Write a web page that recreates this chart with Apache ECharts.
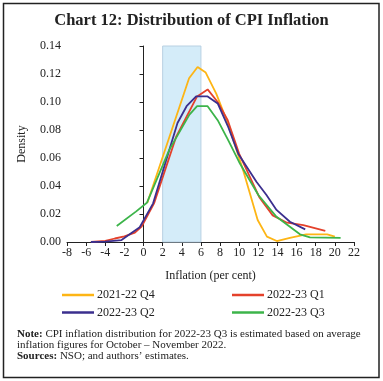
<!DOCTYPE html>
<html>
<head>
<meta charset="utf-8">
<script src="https://cdn.jsdelivr.net/npm/echarts@6/dist/echarts.min.js"></script>
<style>
html,body{margin:0;padding:0;background:#fff;}
#c{width:383px;height:381px;}
</style>
</head>
<body>
<div id="c"></div>
<script>
var seriesNames = ['2021-22 Q4', '2022-23 Q1', '2022-23 Q2', '2022-23 Q3'];
var seriesColors = ['#fdb515', '#e4412b', '#3b2f8e', '#3cb44a'];

var q4x = [0.4, 4.76, 5.65, 6.5, 7.6, 8.8, 9.9, 10.42, 11.93, 12.9, 13.93, 15.3, 17.0, 19.2, 20.0];
var q4y = [0.028, 0.117, 0.125, 0.121, 0.106, 0.085, 0.062, 0.051, 0.0157, 0.0038, 0.0007, 0.003, 0.0055, 0.0055, 0.0038];

var q1x = [-5.5, -4, -3, -2, -0.9, -0.2, 1.1, 3.4, 5.6, 6.7, 7.75, 8.8, 10.0, 12.1, 13.5, 15.0, 16.7, 19.0];
var q1y = [0, 0.0008, 0.0025, 0.004, 0.0067, 0.011, 0.0276, 0.075, 0.104, 0.109, 0.100, 0.087, 0.063, 0.032, 0.019, 0.0138, 0.012, 0.0079];

var q2x = [-5.5, -4, -2.3, -1.3, -0.4, 1.0, 3.55, 4.5, 5.5, 6.7, 7.75, 8.8, 9.9, 11.8, 12.85, 13.9, 15.3, 16.9];
var q2y = [0, 0.0003, 0.0014, 0.0062, 0.0105, 0.0276, 0.085, 0.097, 0.104, 0.104, 0.099, 0.083, 0.063, 0.043, 0.0336, 0.0229, 0.0145, 0.009];

var q3x = [-2.8, -0.8, 0.35, 2.7, 4.8, 5.6, 6.7, 7.75, 8.9, 10.0, 12.0, 13.9, 16.35, 17.4, 20.6];
var q3y = [0.0114, 0.0217, 0.028, 0.066, 0.091, 0.097, 0.097, 0.087, 0.072, 0.057, 0.0336, 0.018, 0.0055, 0.0033, 0.0029];

var bandRange = [2, 6];
var xRange = [-8, 22, 2];
var yRange = [0, 0.14, 0.02];

function pairs(xs, ys) { return xs.map(function (x, i) { return [x, ys[i]]; }); }
var allX = [q4x, q1x, q2x, q3x];
var allY = [q4y, q1y, q2y, q3y];

var FONT = 'Liberation Serif';
var chart = echarts.init(document.getElementById('c'), null, {renderer: 'canvas'});

var series = [{
  type: 'line', name: 'band', data: [], z: 1, silent: true,
  markArea: {
    silent: true,
    itemStyle: {color: '#d4ecf9', borderColor: '#b8d0e2', borderWidth: 1},
    data: [[{xAxis: bandRange[0]}, {xAxis: bandRange[1]}]]
  }
}];
seriesNames.forEach(function (n, i) {
  series.push({
    type: 'line', name: n, data: pairs(allX[i], allY[i]), showSymbol: false, z: 3 + i,
    lineStyle: {color: seriesColors[i], width: 1.8}, itemStyle: {color: seriesColors[i]},
    animation: false
  });
});

function lg(name, left, top) {
  return {
    data: [name], left: left, top: top, icon: 'rect', itemWidth: 32, itemHeight: 2.5, itemGap: 0,
    textStyle: {fontFamily: FONT, fontSize: 12, color: '#222', padding: [0, 0, 0, -2]},
    padding: 0, selectedMode: false
  };
}

chart.setOption({
  animation: false,
  textStyle: {fontFamily: FONT},
  grid: {left: 67, top: 46, width: 287, height: 196, containLabel: false},
  xAxis: {
    type: 'value', min: xRange[0], max: xRange[1], interval: xRange[2],
    name: 'Inflation (per cent)', nameLocation: 'middle', nameGap: 28,
    nameTextStyle: {fontFamily: FONT, fontSize: 12, color: '#222'},
    axisLine: {lineStyle: {color: '#222', width: 1}},
    axisTick: {show: true, length: 4, lineStyle: {color: '#222'}},
    axisLabel: {fontFamily: FONT, fontSize: 12, color: '#222', margin: 5},
    splitLine: {show: false}
  },
  yAxis: {
    type: 'value', min: yRange[0], max: yRange[1], interval: yRange[2],
    name: 'Density', nameLocation: 'middle', nameGap: 39, nameRotate: 90,
    nameTextStyle: {fontFamily: FONT, fontSize: 12, color: '#222'},
    axisLine: {show: true, lineStyle: {color: '#222', width: 1}},
    axisTick: {show: true, length: 4, lineStyle: {color: '#222'}},
    axisLabel: {fontFamily: FONT, fontSize: 12, color: '#222', margin: 6,
      formatter: function (v) { return v.toFixed(2); }},
    splitLine: {show: false}
  },
  legend: [
    lg(seriesNames[0], 62, 289),
    lg(seriesNames[1], 232, 289),
    lg(seriesNames[2], 62, 306.5),
    lg(seriesNames[3], 232, 306.5)
  ],
  series: series,
  graphic: [
    {type: 'rect', shape: {x: 3.5, y: 3.5, width: 375.5, height: 374}, style: {fill: 'none', stroke: '#222', lineWidth: 1.5}, silent: true},
    {type: 'text', left: 'center', top: 12, style: {text: 'Chart 12: Distribution of CPI Inflation', font: 'bold 16.5px "Liberation Serif"', fill: '#222'}},
    {type: 'text', left: 17, top: 329, style: {
      text: '{b|Note:} CPI inflation distribution for 2022-23 Q3 is estimated based on average\ninflation figures for October \u2013 November 2022.\n{b|Sources:} NSO; and authors\u2019 estimates.',
      font: '11px "Liberation Serif"', fill: '#222', lineHeight: 11,
      rich: {b: {font: 'bold 11px "Liberation Serif"', fill: '#222', lineHeight: 11}}
    }}
  ]
});
</script>
</body>
</html>
